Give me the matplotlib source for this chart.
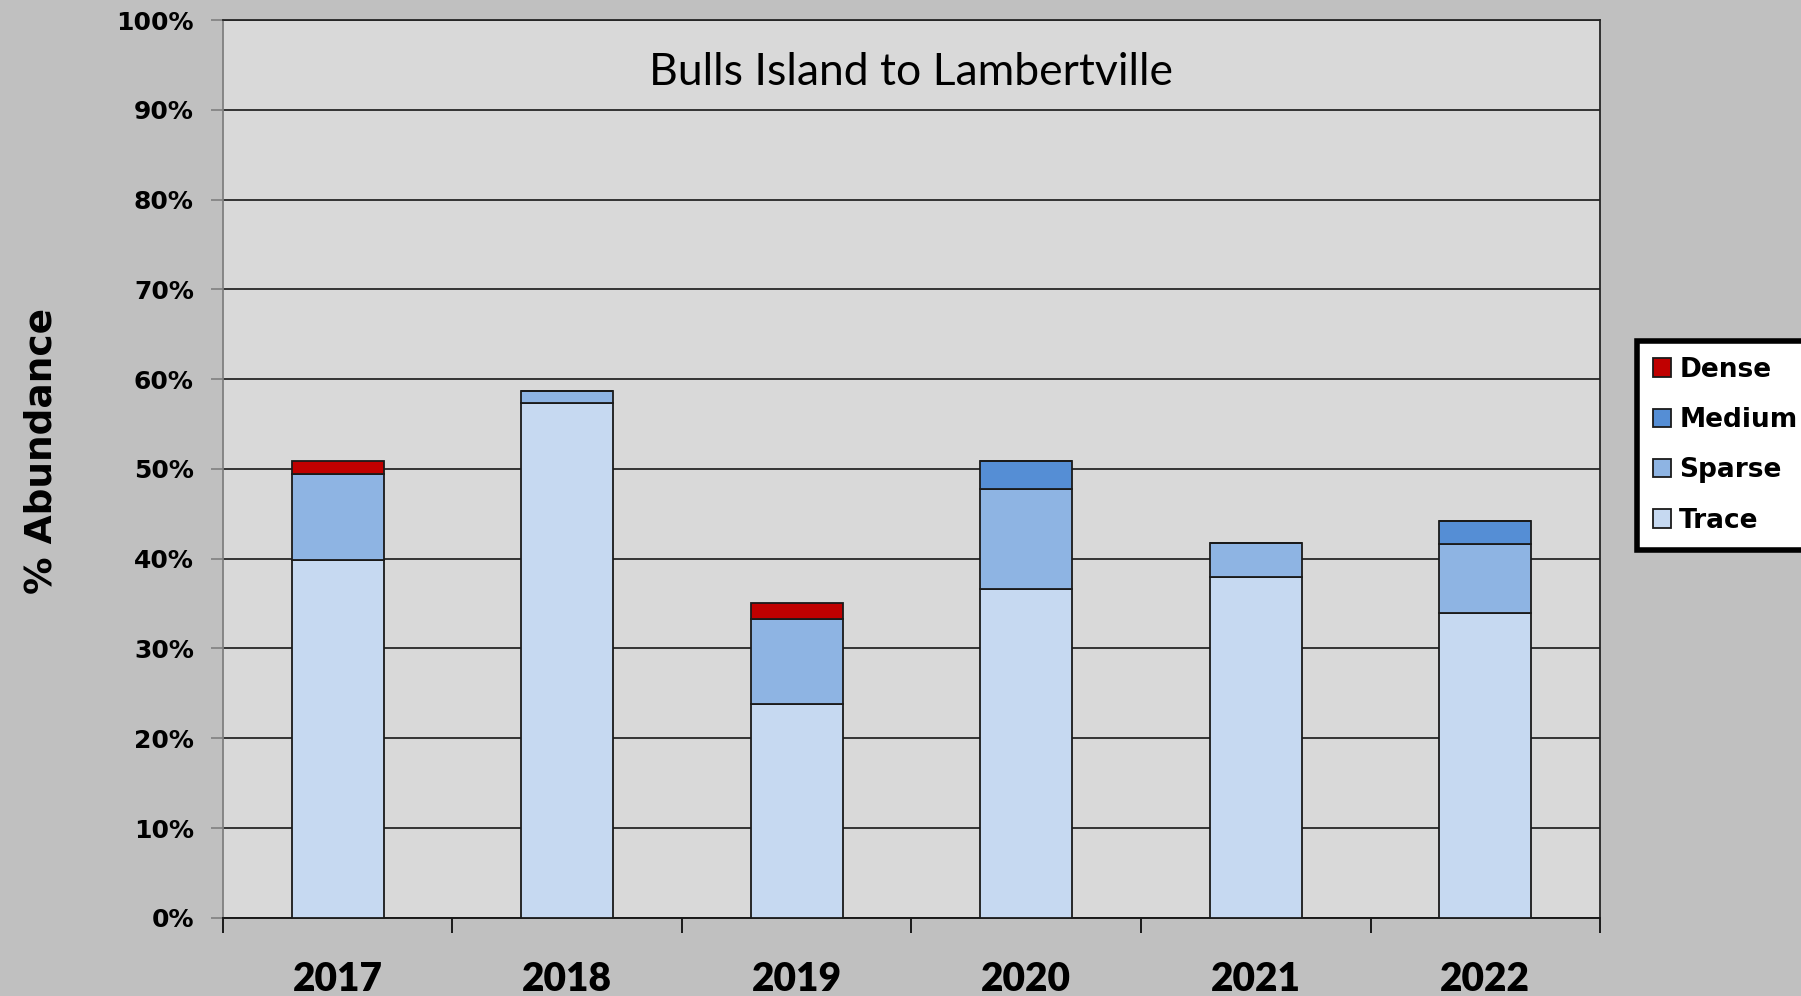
import numpy as np
import matplotlib.pyplot as plt
from matplotlib.ticker import FuncFormatter

years = ['2017', '2018', '2019', '2020', '2021', '2022']
trace = [39.8, 57.3, 23.8, 36.6, 38.0, 33.9]
sparse = [9.6, 1.35, 9.5, 11.2, 3.7, 7.75]
medium = [0.0, 0.0, 0.0, 3.1, 0.0, 2.5]
dense = [1.5, 0.0, 1.75, 0.0, 0.0, 0.0]

colors = {'Trace': '#C6D9F1', 'Sparse': '#8EB4E3', 'Medium': '#558ED5', 'Dense': '#C00000'}

fig = plt.figure(figsize=(18.01, 9.96), dpi=100, facecolor='#C0C0C0')
ax = fig.add_axes([0.1238, 0.0785, 0.7646, 0.9014])
ax.set_facecolor('#D9D9D9')

x = np.arange(len(years))
w = 0.4
bottom = np.zeros(len(years))
handles = {}
for name, vals in [('Trace', trace), ('Sparse', sparse), ('Medium', medium), ('Dense', dense)]:
    vals = np.array(vals)
    b = ax.bar(x, vals, w, bottom=bottom, color=colors[name], edgecolor='#1a1a1a',
               linewidth=1.3, zorder=3)
    handles[name] = b
    bottom += vals

ax.set_xlim(-0.5, len(years) - 0.5)
ax.set_ylim(0, 100)
ax.set_yticks(np.arange(0, 101, 10))
ax.yaxis.set_major_formatter(FuncFormatter(lambda v, p: f'{int(v)}%'))
ax.grid(axis='y', color='#262626', linewidth=1.3, zorder=1)

ax.set_xticks(np.arange(-0.5, len(years), 1))
ax.set_xticklabels([])
ax.set_xticks(x, minor=True)
ax.set_xticklabels(years, minor=True, fontfamily='Lato', fontweight='heavy', fontsize=28)
ax.tick_params(axis='x', which='major', length=11, width=1.4, color='#1a1a1a', direction='out')
ax.tick_params(axis='x', which='minor', length=0, pad=31)
ax.tick_params(axis='y', length=9, width=1.2, color='#808080', pad=12)
for lab in ax.get_yticklabels():
    lab.set_fontfamily('DejaVu Sans')
    lab.set_fontweight('bold')
    lab.set_fontsize(18)

ax.spines['left'].set_color('#808080')
ax.spines['left'].set_linewidth(1.3)
ax.spines['bottom'].set_color('#1a1a1a')
ax.spines['bottom'].set_linewidth(1.4)
ax.spines['top'].set_color('#262626')
ax.spines['right'].set_color('#262626')
ax.spines['top'].set_linewidth(1.3)
ax.spines['right'].set_linewidth(1.3)

ax.text(0.5, 0.942, 'Bulls Island to Lambertville', transform=ax.transAxes,
        ha='center', va='center', fontsize=32, fontfamily='Lato', zorder=5)

fig.text(0.023, 0.547, '% Abundance', rotation=90, ha='center', va='center',
         fontsize=27, fontweight='bold', fontfamily='DejaVu Sans')

order = ['Dense', 'Medium', 'Sparse', 'Trace']
leg = fig.legend([handles[n] for n in order], order, loc='upper left',
                 bbox_to_anchor=(1637 / 1801, 1 - 341 / 996), frameon=True,
                 fancybox=False, edgecolor='black', facecolor='white', framealpha=1,
                 prop={'family': 'DejaVu Sans', 'weight': 'bold', 'size': 19},
                 handlelength=0.7, handleheight=0.7, handletextpad=0.3,
                 labelspacing=0.92, borderpad=0.6, borderaxespad=0)
leg.get_frame().set_linewidth(4)

fig.savefig('out.png', dpi=100, facecolor=fig.get_facecolor())
